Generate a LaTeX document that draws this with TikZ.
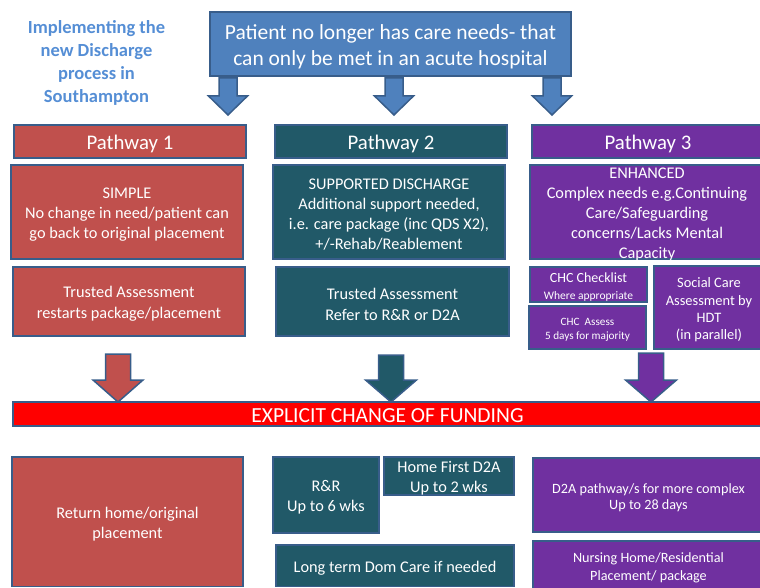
\documentclass[tikz,border=0pt]{standalone}
\usepackage{fontspec}
\setmainfont{Carlito}
\definecolor{cBlue}{HTML}{4F81BD}
\definecolor{cLine}{HTML}{385D8A}
\definecolor{cRed}{HTML}{C0504D}
\definecolor{cTeal}{HTML}{215968}
\definecolor{cPurple}{HTML}{7030A0}
\definecolor{cTitle}{HTML}{558ED5}
\definecolor{cBar}{HTML}{FF0000}
\newcommand{\fs}[2]{\fontsize{#1}{#2}\selectfont}
\newcommand{\bx}[8]{\node[box, fill=#2, minimum width={(#5-#3)*1pt}, minimum height={(#6-#4)*1pt}, anchor=north west] (#1) at (#3,#4) {};
  \node[boxtext, font=#7] (#1-t) at ([yshift=-2.5pt]#1.center) {#8};}
\newcommand{\blkarrow}[8]{\draw[blkarr, fill=#8] ({#2-#6},#3) -- ({#2+#6},#3) -- ({#2+#6},#4) -- ({#2+#7},#4) -- (#2,#5) coordinate (#1) -- ({#2-#7},#4) -- ({#2-#6},#4) -- cycle;}
\begin{document}
\begin{tikzpicture}[x=1pt,y=-1pt,
  box/.style={draw=cLine, line width=1.5pt, inner sep=0pt, outer sep=0pt},
  boxtext/.style={text=white, align=center, inner sep=0pt},
  blkarr/.style={draw=cLine, line width=1.5pt, line join=miter}]
\useasboundingbox (0,0) rectangle (760,588);
% title
\node[text=cTitle, align=center, font=\bfseries\fs{18.5}{23}] (title) at (96.5,63) {Implementing the\\new Discharge\\process in\\Southampton};
% top box
\bx{top}{cBlue}{210}{12}{571}{76}{\fs{21.5}{26}}{Patient no longer has care needs- that\\can only be met in an acute hospital}
% top arrows
\blkarrow{a1}{228}{78}{96}{115}{9}{19.5}{cBlue}
\blkarrow{a2}{394}{78}{96}{115}{9}{19.5}{cBlue}
\blkarrow{a3}{552}{78}{96}{115}{9}{19.5}{cBlue}
% headers
\bx{p1h}{cRed}{14}{125}{246}{158}{\fs{20.8}{24}}{Pathway 1}
\bx{p2h}{cTeal}{275}{125}{507}{158}{\fs{20.8}{24}}{Pathway 2}
\bx{p3h}{cPurple}{532}{125}{764}{158}{\fs{20.8}{24}}{Pathway 3}
% second row
\bx{p1a}{cRed}{11}{165}{243}{259}{\fs{16.3}{20}}{SIMPLE\\No change in need/patient can\\go back to original placement}
\bx{p2a}{cTeal}{273}{165}{505}{259}{\fs{16.3}{20}}{SUPPORTED DISCHARGE\\Additional support needed,\\i.e. care package (inc QDS X2),\\+/-Rehab/Reablement}
\bx{p3a}{cPurple}{530}{165}{764}{259}{\fs{16.3}{19.8}}{ENHANCED\\Complex needs e.g.Continuing\\Care/Safeguarding\\concerns/Lacks Mental\\Capacity}
% third row
\bx{p1b}{cRed}{13}{267}{245}{336}{\fs{16.3}{21}}{Trusted Assessment\\restarts package/placement}
\bx{p2b}{cTeal}{276}{267}{509}{336}{\fs{16.3}{21}}{Trusted Assessment\\Refer to R\&R or D2A}
\bx{chc1}{cPurple}{530}{267}{647}{302}{\fs{14}{17}}{CHC Checklist\\\fs{11.5}{14}Where appropriate}
\bx{chc2}{cPurple}{529}{306}{646}{349}{\fs{11.2}{14}}{CHC\ \ Assess\\5 days for majority}
\bx{soc}{cPurple}{654}{266}{764}{349}{\fs{14.4}{17.3}}{Social Care\\Assessment by\\HDT\\(in parallel)}
% lower arrows
\blkarrow{b1}{118}{354}{380}{402}{12.5}{25}{cRed}
\blkarrow{b2}{391}{355}{380}{402}{12.5}{25.5}{cTeal}
\blkarrow{b3}{651}{353}{380}{402}{12.5}{25.5}{cPurple}
% funding bar
\bx{bar}{cBar}{13}{402}{764}{426}{\fs{21.5}{24}}{}
\node[text=white, font=\fs{21.5}{24}, inner sep=0pt] (bartext) at (387.5,416) {EXPLICIT CHANGE OF FUNDING};
% bottom
\bx{ret}{cRed}{12}{457}{243}{586.5}{\fs{16.3}{20}}{Return home/original\\placement}
\bx{rr}{cTeal}{273}{457}{379}{533}{\fs{16.3}{20}}{R\&R\\Up to 6 wks}
\bx{hf}{cTeal}{384}{457}{514}{495}{\fs{16.3}{20}}{Home First D2A\\Up to 2 wks}
\bx{ltd}{cTeal}{276}{545}{514}{586.5}{\fs{16.3}{20}}{Long term Dom Care if needed}
\bx{d2a}{cPurple}{533}{458}{764}{532}{\fs{14.2}{16.5}}{D2A pathway/s for more complex\\Up to 28 days}
\bx{nh}{cPurple}{533}{541}{764}{590}{\fs{14.2}{17.5}}{Nursing Home/Residential\\Placement/ package}
\end{tikzpicture}
\end{document}
